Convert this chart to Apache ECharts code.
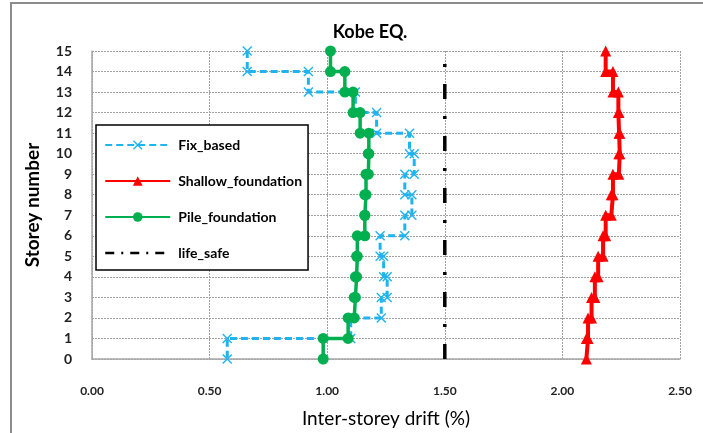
<!DOCTYPE html>
<html>
<head>
<meta charset="utf-8">
<title>Kobe EQ.</title>
<script src="https://cdn.jsdelivr.net/npm/echarts@6/dist/echarts.min.js"></script>
<style>
html, body { margin: 0; padding: 0; background: #fff; }
#graph { width: 703px; height: 433px; }
</style>
</head>
<body>
<div id="graph"></div>
<script>
// inter-storey drift (%) of storey 1..15 (storey i spans level i-1 to level i)
var fix_based = [0.575, 1.10, 1.23, 1.255, 1.24, 1.225, 1.33, 1.36, 1.33, 1.37, 1.35, 1.21, 1.12, 0.92, 0.66];
var shallow_foundation = [2.102, 2.109, 2.124, 2.138, 2.152, 2.173, 2.184, 2.208, 2.215, 2.24, 2.244, 2.241, 2.238, 2.215, 2.184];
var pile_foundation = [0.983, 1.089, 1.115, 1.12, 1.125, 1.128, 1.16, 1.16, 1.165, 1.175, 1.177, 1.14, 1.11, 1.075, 1.014];
var life_safe = [1.5, 1.5];
var life_safe_levels = [0, 15];
var x_ticks = [0, 0.5, 1.0, 1.5, 2.0, 2.5];
var y_levels = [0, 15];

var font = 'Lato, "Open Sans", sans-serif';

// each storey drawn as a vertical piece between its two levels
function step_points(drift){
    var pts = [];
    for (var i = drift.length; i >= 1; i--) {
	pts.push([drift[i - 1], i]);
	pts.push([drift[i - 1], i - 1]);
    }
    return pts;
}

function pairs(xs, ys){
    var pts = [];
    for (var i = 0; i < xs.length; i++) { pts.push([xs[i], ys[i]]); }
    return pts;
}

var cross = 'path://M0,1 L1,0 L5,4 L9,0 L10,1 L6,5 L10,9 L9,10 L5,6 L1,10 L0,9 L4,5 Z';

var option = {
    animation: false,
    backgroundColor: '#fff',
    grid: { left: 92, right: 23, top: 51, bottom: 74 },
    graphic: [
	{ type: 'rect', shape: { x: 11, y: 3, width: 800, height: 520 },
	  style: { fill: 'none', stroke: '#8c8c8c', lineWidth: 2 }, silent: true },
	{ type: 'text', x: 370, y: 32,
	  style: { text: 'Kobe EQ.', font: 'bold 18px ' + font, fill: '#000',
		   align: 'center', verticalAlign: 'middle' } }
    ],
    legend: {
	orient: 'vertical', left: 96, top: 125,
	padding: [13, 6, 10, 8],
	itemWidth: 65, itemHeight: 12, itemGap: 22,
	backgroundColor: '#fff', borderColor: '#000', borderWidth: 1.5, borderRadius: 0,
	textStyle: { fontFamily: font, fontWeight: 'bold', fontSize: 14, color: '#000', padding: [0, 0, 0, 3] },
	data: [
	    { name: 'Fix_based' },
	    { name: 'Shallow_foundation' },
	    { name: 'Pile_foundation' },
	    { name: 'life_safe', itemStyle: { color: 'rgba(0,0,0,0)', borderWidth: 0 },
	      lineStyle: { type: [9, 7, 2, 7], width: 2.5 } }
	]
    },
    xAxis: {
	type: 'value', min: x_ticks[0], max: x_ticks[x_ticks.length - 1], interval: x_ticks[1] - x_ticks[0],
	name: 'Inter-storey drift (%)', nameLocation: 'middle', nameGap: 50,
	nameTextStyle: { fontFamily: font, fontSize: 19, color: '#000' },
	axisLine: { show: true, lineStyle: { color: '#a6a6a6', width: 1.5 } },
	axisTick: { show: false },
	axisLabel: { margin: 26, fontFamily: font, fontWeight: 'bold', fontSize: 12, color: '#222',
		     formatter: function(v){ return v.toFixed(2); } },
	splitLine: { show: true, lineStyle: { color: '#a0a0a0', type: [2, 1], width: 1 } }
    },
    yAxis: {
	type: 'value', min: y_levels[0], max: y_levels[1], interval: 1,
	name: 'Storey number', nameLocation: 'middle', nameGap: 50,
	nameTextStyle: { fontFamily: font, fontWeight: 'bold', fontSize: 19, color: '#000' },
	axisLine: { show: true, lineStyle: { color: '#a6a6a6', width: 1.5 } },
	axisTick: { show: false },
	axisLabel: { margin: 20, fontFamily: font, fontWeight: 'bold', fontSize: 14, color: '#222' },
	splitLine: { show: true, lineStyle: { color: '#a0a0a0', type: [2, 1], width: 1 } }
    },
    series: [
	{
	    name: 'Fix_based', type: 'line', data: step_points(fix_based),
	    symbol: cross, symbolSize: 10,
	    itemStyle: { color: '#1fb4f0' },
	    lineStyle: { color: '#1fb4f0', width: 3, type: [7, 4] }
	},
	{
	    name: 'Shallow_foundation', type: 'line', data: step_points(shallow_foundation),
	    symbol: 'triangle', symbolSize: 11,
	    itemStyle: { color: '#ff0000' },
	    lineStyle: { color: '#ff0000', width: 4 }
	},
	{
	    name: 'Pile_foundation', type: 'line', data: step_points(pile_foundation),
	    symbol: 'circle', symbolSize: 11,
	    itemStyle: { color: '#00b050' },
	    lineStyle: { color: '#00b050', width: 3.5 }
	},
	{
	    name: 'life_safe', type: 'line', data: pairs(life_safe, life_safe_levels),
	    symbol: 'none',
	    itemStyle: { color: '#000' },
	    lineStyle: { color: '#000', width: 3.5, type: [15, 17, 3, 17] }
	}
    ]
};

var myChart = echarts.init(document.getElementById('graph'));
myChart.setOption(option);
</script>
</body>
</html>
